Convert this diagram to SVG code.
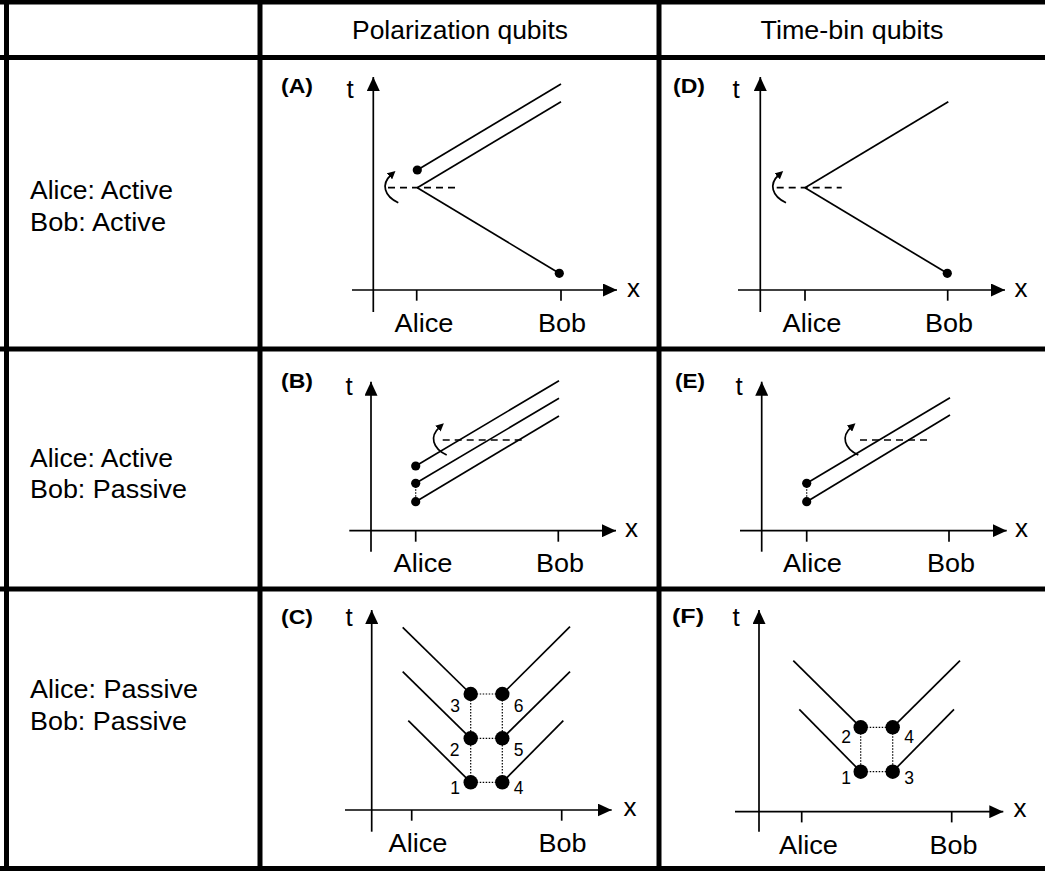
<svg xmlns="http://www.w3.org/2000/svg" width="1045" height="871" viewBox="0 0 1045 871">
<style>
text{font-family:"Liberation Sans",Arial,Helvetica,sans-serif;fill:#000}
.lbl{font-size:25px}
.ch{font-size:26px}
.pl{font-size:21px;font-weight:bold}
.num{font-size:17.5px}
.grid{stroke:#000;stroke-width:5;fill:none}
.ax{stroke:#000;stroke-width:1.7;fill:none;marker-end:url(#axh)}
.tk{stroke:#000;stroke-width:1.7}
.wl{stroke:#000;stroke-width:1.7;fill:none}
.dash{stroke:#000;stroke-width:1.7;stroke-dasharray:7 5;fill:none}
.dot{stroke:#000;stroke-width:1.2;stroke-dasharray:1.5 1.5;fill:none}
.cur{stroke:#000;stroke-width:1.7;fill:none;marker-end:url(#cuh)}
</style>
<defs>
<marker id="axh" markerUnits="userSpaceOnUse" markerWidth="15" markerHeight="13" refX="14" refY="6.5" orient="auto" viewBox="0 0 15 13"><path d="M0,0 L14,6.5 L0,13 z" fill="#000"/></marker>
<marker id="cuh" markerUnits="userSpaceOnUse" markerWidth="9" markerHeight="8" refX="2" refY="4" orient="auto" viewBox="0 0 9 8"><path d="M0,0 L8,4 L0,8 z" fill="#000"/></marker>
<path id="curv" d="M0,0 C-14.3,-6.7 -17.3,-18.7 -7.3,-27.7"/>
</defs>
<rect width="1045" height="871" fill="#fff"/>
<g id="table">
<line class="grid" x1="0" y1="2" x2="1045" y2="2"/>
<line class="grid" x1="0" y1="57.5" x2="1045" y2="57.5"/>
<line class="grid" x1="0" y1="349" x2="1045" y2="349"/>
<line class="grid" x1="0" y1="589" x2="1045" y2="589"/>
<line class="grid" x1="0" y1="868.5" x2="1045" y2="868.5"/>
<line class="grid" x1="6.5" y1="0" x2="6.5" y2="871"/>
<line class="grid" x1="260" y1="0" x2="260" y2="871"/>
<line class="grid" x1="659" y1="0" x2="659" y2="871"/>
</g>
<g id="headers">
<text class="lbl" x="460" y="38.5" text-anchor="middle" textLength="216" lengthAdjust="spacingAndGlyphs">Polarization qubits</text>
<text class="lbl" x="852" y="38.5" text-anchor="middle" textLength="183" lengthAdjust="spacingAndGlyphs">Time-bin qubits</text>
</g>
<g id="row-labels">
<text class="lbl" x="30" y="198.5" textLength="143" lengthAdjust="spacingAndGlyphs">Alice: Active</text>
<text class="lbl" x="30" y="230.5" textLength="136" lengthAdjust="spacingAndGlyphs">Bob: Active</text>
<text class="lbl" x="30" y="466.5" textLength="143" lengthAdjust="spacingAndGlyphs">Alice: Active</text>
<text class="lbl" x="30" y="497.5" textLength="157" lengthAdjust="spacingAndGlyphs">Bob: Passive</text>
<text class="lbl" x="30" y="697.5" textLength="168" lengthAdjust="spacingAndGlyphs">Alice: Passive</text>
<text class="lbl" x="30" y="729.5" textLength="157" lengthAdjust="spacingAndGlyphs">Bob: Passive</text>
</g>
<g id="panel-A">
<text class="pl" x="281" y="93" textLength="32" lengthAdjust="spacingAndGlyphs">(A)</text>
<text class="ch" x="350" y="97.7" text-anchor="middle">t</text>
<line class="ax" x1="373.3" y1="312" x2="373.3" y2="77"/>
<line class="ax" x1="352" y1="290" x2="617" y2="290"/>
<line class="tk" x1="416.7" y1="290" x2="416.7" y2="300.7"/>
<line class="tk" x1="561" y1="290" x2="561" y2="300.7"/>
<text class="ch" x="633.5" y="297.3" text-anchor="middle">x</text>
<text class="lbl" x="424" y="332" text-anchor="middle" textLength="59" lengthAdjust="spacingAndGlyphs">Alice</text>
<text class="lbl" x="562" y="332" text-anchor="middle" textLength="48" lengthAdjust="spacingAndGlyphs">Bob</text>
<line class="wl" x1="417.3" y1="170" x2="561" y2="84"/>
<line class="wl" x1="417.3" y1="187.7" x2="561" y2="101.7"/>
<line class="wl" x1="417.3" y1="187.7" x2="559.3" y2="273.3"/>
<circle cx="417.3" cy="170" r="4.6"/>
<circle cx="559.3" cy="273.3" r="4.6"/>
<line class="dash" x1="388" y1="187.7" x2="455" y2="187.7"/>
<use href="#curv" class="cur" transform="translate(398.3,202.7)"/>
</g>
<g id="panel-B">
<text class="pl" x="281" y="387.7" textLength="32" lengthAdjust="spacingAndGlyphs">(B)</text>
<text class="ch" x="349" y="395" text-anchor="middle">t</text>
<line class="ax" x1="371" y1="551.7" x2="371" y2="381.7"/>
<line class="ax" x1="349.3" y1="530.7" x2="616" y2="530.7"/>
<line class="tk" x1="415.7" y1="530.7" x2="415.7" y2="541.7"/>
<line class="tk" x1="558.3" y1="530.7" x2="558.3" y2="541.7"/>
<text class="ch" x="631.5" y="536.7" text-anchor="middle">x</text>
<text class="lbl" x="423" y="572" text-anchor="middle" textLength="59" lengthAdjust="spacingAndGlyphs">Alice</text>
<text class="lbl" x="560" y="572" text-anchor="middle" textLength="48" lengthAdjust="spacingAndGlyphs">Bob</text>
<line class="wl" x1="415.7" y1="466" x2="559" y2="380.7"/>
<line class="wl" x1="415.7" y1="483.3" x2="559" y2="398.3"/>
<line class="wl" x1="415.7" y1="501.7" x2="559" y2="416"/>
<line class="dot" x1="415.7" y1="483.3" x2="415.7" y2="501.7"/>
<circle cx="415.7" cy="466" r="4.6"/>
<circle cx="415.7" cy="483.3" r="4.6"/>
<circle cx="415.7" cy="501.7" r="4.6"/>
<line class="dash" x1="442.7" y1="440" x2="525" y2="440"/>
<use href="#curv" class="cur" transform="translate(446.7,455)"/>
</g>
<g id="panel-C">
<text class="pl" x="281" y="624.3" textLength="32" lengthAdjust="spacingAndGlyphs">(C)</text>
<text class="ch" x="349" y="626" text-anchor="middle">t</text>
<line class="ax" x1="371.7" y1="831.7" x2="371.7" y2="610"/>
<line class="ax" x1="345" y1="810" x2="611.7" y2="810"/>
<line class="tk" x1="411.7" y1="810" x2="411.7" y2="820.7"/>
<line class="tk" x1="561.7" y1="810" x2="561.7" y2="820.7"/>
<text class="ch" x="630" y="816" text-anchor="middle">x</text>
<text class="lbl" x="418" y="852" text-anchor="middle" textLength="59" lengthAdjust="spacingAndGlyphs">Alice</text>
<text class="lbl" x="562.5" y="852" text-anchor="middle" textLength="48" lengthAdjust="spacingAndGlyphs">Bob</text>
<line class="wl" x1="470.7" y1="694" x2="402.7" y2="627.3"/>
<line class="wl" x1="470.7" y1="738.3" x2="402.7" y2="671.7"/>
<line class="wl" x1="470.7" y1="782.3" x2="408.3" y2="720.7"/>
<line class="wl" x1="502.3" y1="694" x2="570" y2="626.7"/>
<line class="wl" x1="502.3" y1="738.3" x2="570" y2="671.7"/>
<line class="wl" x1="502.3" y1="782.3" x2="563.3" y2="720.7"/>
<path class="dot" d="M470.7,694 H502.3 M470.7,738.3 H502.3 M470.7,782.3 H502.3 M470.7,694 V782.3 M502.3,694 V782.3"/>
<circle cx="470.7" cy="694" r="7.2"/>
<circle cx="470.7" cy="738.3" r="7.2"/>
<circle cx="470.7" cy="782.3" r="7.2"/>
<circle cx="502.3" cy="694" r="7.2"/>
<circle cx="502.3" cy="738.3" r="7.2"/>
<circle cx="502.3" cy="782.3" r="7.2"/>
<text class="num" x="455" y="712" text-anchor="middle">3</text>
<text class="num" x="454.5" y="756" text-anchor="middle">2</text>
<text class="num" x="455" y="794" text-anchor="middle">1</text>
<text class="num" x="518.5" y="712" text-anchor="middle">6</text>
<text class="num" x="518.5" y="756" text-anchor="middle">5</text>
<text class="num" x="518.5" y="794" text-anchor="middle">4</text>
</g>
<g id="panel-D">
<text class="pl" x="673" y="92.7" textLength="32" lengthAdjust="spacingAndGlyphs">(D)</text>
<text class="ch" x="736" y="97.7" text-anchor="middle">t</text>
<line class="ax" x1="760.3" y1="312" x2="760.3" y2="77"/>
<line class="ax" x1="738" y1="290" x2="1005" y2="290"/>
<line class="tk" x1="805" y1="290" x2="805" y2="300.7"/>
<line class="tk" x1="947.7" y1="290" x2="947.7" y2="300.7"/>
<text class="ch" x="1021" y="297.3" text-anchor="middle">x</text>
<text class="lbl" x="812" y="332" text-anchor="middle" textLength="59" lengthAdjust="spacingAndGlyphs">Alice</text>
<text class="lbl" x="949" y="332" text-anchor="middle" textLength="48" lengthAdjust="spacingAndGlyphs">Bob</text>
<line class="wl" x1="805" y1="187.7" x2="948.3" y2="101.7"/>
<line class="wl" x1="805" y1="187.7" x2="947.3" y2="273.3"/>
<circle cx="947.3" cy="273.3" r="4.6"/>
<line class="dash" x1="776.7" y1="187.7" x2="841.7" y2="187.7"/>
<use href="#curv" class="cur" transform="translate(786,202.7)"/>
</g>
<g id="panel-E">
<text class="pl" x="675" y="387.7" textLength="30" lengthAdjust="spacingAndGlyphs">(E)</text>
<text class="ch" x="739" y="395" text-anchor="middle">t</text>
<line class="ax" x1="761.7" y1="551.7" x2="761.7" y2="381.7"/>
<line class="ax" x1="740" y1="530.7" x2="1006.7" y2="530.7"/>
<line class="tk" x1="806.7" y1="530.7" x2="806.7" y2="541.7"/>
<line class="tk" x1="949" y1="530.7" x2="949" y2="541.7"/>
<text class="ch" x="1021.5" y="536.7" text-anchor="middle">x</text>
<text class="lbl" x="812.5" y="572" text-anchor="middle" textLength="59" lengthAdjust="spacingAndGlyphs">Alice</text>
<text class="lbl" x="951" y="572" text-anchor="middle" textLength="48" lengthAdjust="spacingAndGlyphs">Bob</text>
<line class="wl" x1="806.7" y1="483.3" x2="950" y2="397.7"/>
<line class="wl" x1="806.7" y1="501.7" x2="950" y2="415"/>
<line class="dot" x1="806.7" y1="483.3" x2="806.7" y2="501.7"/>
<circle cx="806.7" cy="483.3" r="4.6"/>
<circle cx="806.7" cy="501.7" r="4.6"/>
<line class="dash" x1="860" y1="440" x2="930" y2="440"/>
<use href="#curv" class="cur" transform="translate(858.3,455)"/>
</g>
<g id="panel-F">
<text class="pl" x="672" y="623.3" textLength="32" lengthAdjust="spacingAndGlyphs">(F)</text>
<text class="ch" x="736" y="626" text-anchor="middle">t</text>
<line class="ax" x1="759" y1="831.7" x2="759" y2="610"/>
<line class="ax" x1="735" y1="811.7" x2="1003.3" y2="811.7"/>
<line class="tk" x1="801.7" y1="811.7" x2="801.7" y2="822.4"/>
<line class="tk" x1="951.7" y1="811.7" x2="951.7" y2="822.4"/>
<text class="ch" x="1020" y="817.3" text-anchor="middle">x</text>
<text class="lbl" x="808.5" y="853.5" text-anchor="middle" textLength="59" lengthAdjust="spacingAndGlyphs">Alice</text>
<text class="lbl" x="953.5" y="853.5" text-anchor="middle" textLength="48" lengthAdjust="spacingAndGlyphs">Bob</text>
<line class="wl" x1="860.7" y1="727.3" x2="793.3" y2="660.7"/>
<line class="wl" x1="860.7" y1="771.7" x2="799.3" y2="709.3"/>
<line class="wl" x1="892.7" y1="727.3" x2="960" y2="660.7"/>
<line class="wl" x1="892.7" y1="771.7" x2="954" y2="709.3"/>
<path class="dot" d="M860.7,727.3 H892.7 M860.7,771.7 H892.7 M860.7,727.3 V771.7 M892.7,727.3 V771.7"/>
<circle cx="860.7" cy="727.3" r="7.2"/>
<circle cx="860.7" cy="771.7" r="7.2"/>
<circle cx="892.7" cy="727.3" r="7.2"/>
<circle cx="892.7" cy="771.7" r="7.2"/>
<text class="num" x="846" y="742.7" text-anchor="middle">2</text>
<text class="num" x="846" y="784.3" text-anchor="middle">1</text>
<text class="num" x="909" y="742.7" text-anchor="middle">4</text>
<text class="num" x="909" y="784.3" text-anchor="middle">3</text>
</g>
</svg>
